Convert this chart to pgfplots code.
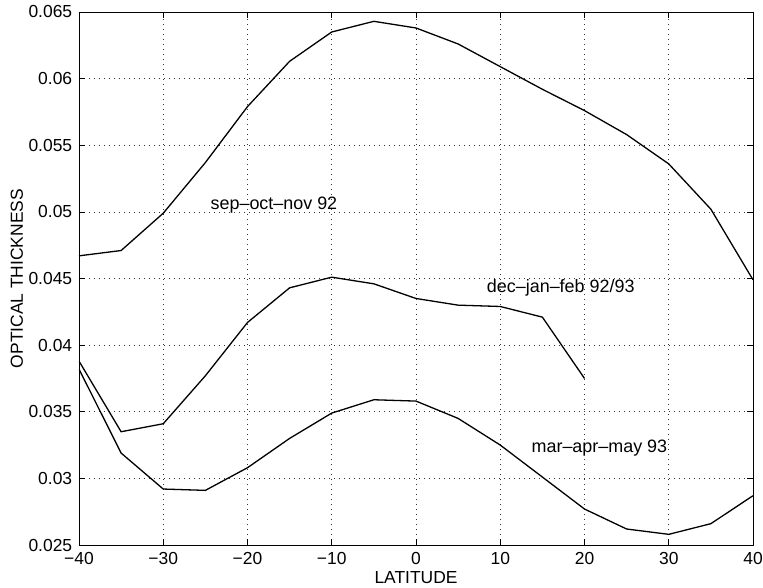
\documentclass[border=0pt]{standalone}
\usepackage{pgfplots}
\pgfplotsset{compat=1.18}
\usepackage{fontspec}
\setmainfont{Liberation Sans}
\begin{document}
\fontsize{17}{20}\selectfont
\begin{tikzpicture}
\begin{axis}[
  at={(0,0)}, anchor=south west,
  width=674bp, height=533bp, scale only axis=true,
  xmin=-40, xmax=40, ymin=0.025, ymax=0.065,
  xtick={-40,-30,-20,-10,0,10,20,30,40},
  xticklabels={−40,−30,−20,−10,0,10,20,30,40},
  ytick={0.025,0.03,0.035,0.04,0.045,0.05,0.055,0.06,0.065},
  yticklabels={0.025,0.03,0.035,0.04,0.045,0.05,0.055,0.06,0.065},
  scaled y ticks=false,
  tick align=inside,
  major tick length=6bp,
  tick style={black, line width=0.6bp},
  axis line style={black, line width=0.9bp},
  grid=major,
  major grid style={black!80, line width=0.6bp, dash pattern=on 0.8bp off 4.2bp},
  ticklabel style={font=\fontsize{17.5}{20}\selectfont},
  xticklabel style={yshift=-1bp},
  yticklabel style={xshift=-1bp},
  xlabel={LATITUDE},
  ylabel={OPTICAL THICKNESS},
  xlabel style={at={(axis description cs:0.5,-0.062)}, anchor=center, font=\fontsize{17.5}{20}\selectfont},
  ylabel style={at={(axis description cs:-0.092,0.5)}, anchor=center, rotate=0, font=\fontsize{17.5}{20}\selectfont},
  /pgf/number format/assume math mode=true,
]
\addplot[black, line width=1.3bp, mark=none] coordinates {
(-40,0.0467) (-35,0.0471) (-30,0.0499) (-25,0.0537) (-20,0.0579) (-15,0.0613) (-10,0.0635) (-5,0.0643) (0,0.0638) (5,0.0626) (10,0.0609) (15,0.0592) (20,0.0576) (25,0.0558) (30,0.0536) (35,0.0502) (40,0.0449)
};
\addplot[black, line width=1.3bp, mark=none] coordinates {
(-40,0.0388) (-35,0.0335) (-30,0.0341) (-25,0.0377) (-20,0.0417) (-15,0.0443) (-10,0.0451) (-5,0.0446) (0,0.0435) (5,0.0430) (10,0.0429) (15,0.0421) (20,0.0375)
};
\addplot[black, line width=1.3bp, mark=none] coordinates {
(-40,0.0382) (-35,0.0319) (-30,0.0292) (-25,0.0291) (-20,0.0308) (-15,0.0330) (-10,0.0349) (-5,0.0359) (0,0.0358) (5,0.0345) (10,0.0325) (15,0.0301) (20,0.0277) (25,0.0262) (30,0.0258) (35,0.0266) (40,0.0287)
};
\node[anchor=west, inner sep=0pt, font=\fontsize{18}{20}\selectfont] at (axis cs:-24.4,0.0505) {sep–oct–nov 92};
\node[anchor=west, inner sep=0pt, font=\fontsize{18}{20}\selectfont] at (axis cs:8.4,0.0443) {dec–jan–feb 92/93};
\node[anchor=west, inner sep=0pt, font=\fontsize{18}{20}\selectfont] at (axis cs:13.7,0.0323) {mar–apr–may 93};
\end{axis}
\pgfresetboundingbox
\path (-79bp,-43bp) rectangle (684bp,545bp);
\end{tikzpicture}
\end{document}
